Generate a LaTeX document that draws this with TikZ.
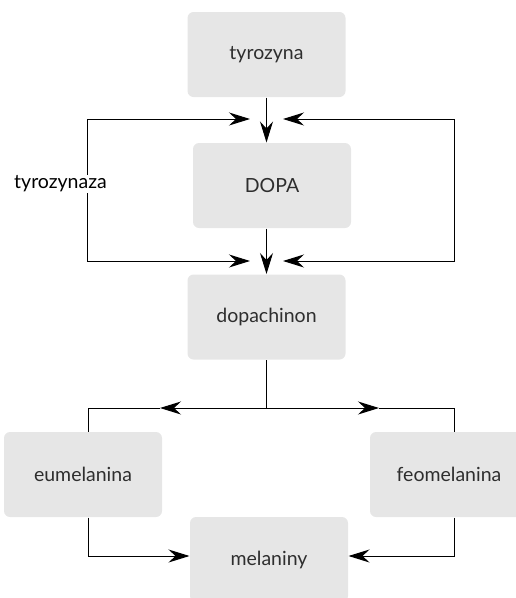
\documentclass[tikz,border=0pt]{standalone}
\usepackage{fontspec}
\setmainfont{Lato}
\usetikzlibrary{arrows.meta,positioning}
\definecolor{boxgray}{HTML}{E6E6E6}
\definecolor{textgray}{HTML}{2E2E2E}

\begin{document}
\begin{tikzpicture}[>={Stealth[length=21pt,width=13pt,inset=7pt]},line width=1pt,
                    x=1pt,y=1pt]
  \tikzstyle{box}=[rounded corners=6pt,fill=boxgray,text=textgray,minimum width=158pt,
                   minimum height=85pt,font=\fontsize{19.5}{22}\selectfont]
  \tikzstyle{enzyme}=[fill=white,text=black,inner sep=1pt,font=\fontsize{19.5}{22}\selectfont]
  \useasboundingbox (0,0) rectangle (516,-598);

  \node[box]           (T) at (266.5,-54.5) {tyrozyna};
  \node[box]           (D) at (272,-185.5)  {DOPA};
  \node[box]           (Q) at (266.5,-317)  {dopachinon};
  \node[box]           (E) at (83,-474.5)   {eumelanina};
  \node[box]           (F) at (449,-474.5)  {feomelanina};
  \node[box]           (M) at (269,-559.5)  {melaniny};

  % loops round DOPA
  \coordinate (LT) at (87,-119);
  \coordinate (LB) at (87,-261);
  \coordinate (RT) at (454,-119);
  \coordinate (RB) at (454,-261);
  \draw[<->] (250,-119) coordinate (LTtip) -- (LT) -- (LB) -- (250,-261) coordinate (LBtip);
  \draw[<->] (283,-119) coordinate (RTtip) -- (RT) -- (RB) -- (283,-261) coordinate (RBtip);
  \node[enzyme]        (Z) at (60.5,-184) {tyrozynaza};

  \draw[->] (T.south) -- (T.south |- D.north);
  \draw[->] (T.south |- D.south) -- (T.south |- Q.north);

  % branch below dopachinon
  \coordinate (S)  at (266.5,-408);
  \coordinate (HL) at (160,-408);
  \coordinate (HR) at (379,-408);
  \coordinate (EL) at (88,-408);
  \coordinate (ER) at (454,-408);
  \draw (Q.south) -- (S);
  \draw[->] (S) -- (HL);
  \draw[->] (S) -- (HR);
  \draw (HL) -- (EL) -- (EL |- E.north);
  \draw (HR) -- (ER) -- (ER |- F.north);

  % into melaniny
  \coordinate (BL) at (88,-556);
  \coordinate (BR) at (454,-556);
  \draw[->] (EL |- E.south) -- (BL) -- (M.west |- BL);
  \draw[->] (ER |- F.south) -- (BR) -- (M.east |- BR);
\end{tikzpicture}
\end{document}
